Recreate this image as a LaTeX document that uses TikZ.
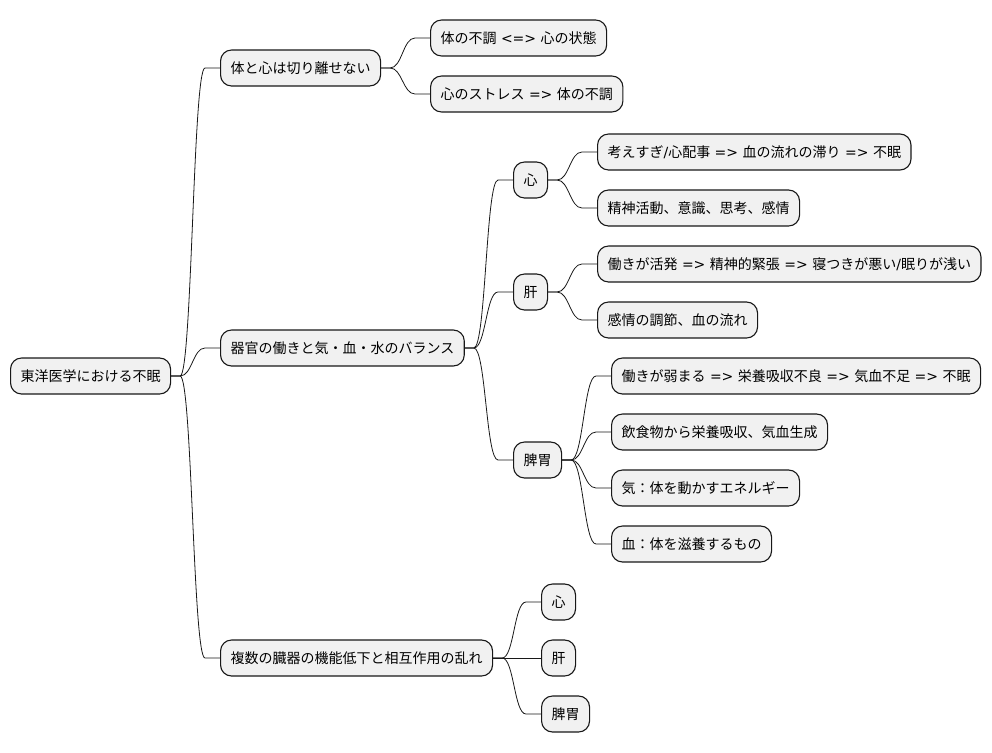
\documentclass[tikz,border=0pt]{standalone}
\usepackage{fontspec}
\setmainfont{Noto Sans CJK JP}
\newfontfamily\dvfont{DejaVu Sans}
\newcommand{\lat}[1]{{\dvfont #1}}
\usetikzlibrary{calc}
\definecolor{boxfill}{HTML}{F1F1F1}
\definecolor{boxline}{HTML}{181818}
\tikzset{
  mm/.style={draw=boxline, line width=1.1pt, fill=boxfill, rounded corners=11pt,
    minimum height=36pt, inner xsep=10pt, inner ysep=0pt, anchor=west,
    font=\fontsize{14}{16}\selectfont, text=black},
  link/.style={draw=boxline, line width=0.8pt}
}
\newcommand{\mmlink}[2]{%
  \draw[link] (#1.east) -- ++(9,0) .. controls +(12,0) and +(-12,0) .. ($(#2.west)+(-15,0)$) -- (#2.west);}
\begin{document}
\begin{tikzpicture}[x=1pt,y=-1pt]
\useasboundingbox (0,0) rectangle (992,752);
\node[mm] (root) at (10,376) {東洋医学における不眠};
\node[mm] (a) at (220,68) {体と心は切り離せない};
\node[mm] (a1) at (430,38) {体の不調\lat{ <=> }心の状態};
\node[mm] (a2) at (430,94) {心のストレス\lat{ => }体の不調};
\node[mm] (b) at (220,348) {器官の働きと気・血・水のバランス};
\node[mm] (b1) at (513,180) {心};
\node[mm] (b11) at (597,152) {考えすぎ\lat{/}心配事\lat{ => }血の流れの滞り\lat{ => }不眠};
\node[mm] (b12) at (597,208) {精神活動、意識、思考、感情};
\node[mm] (b2) at (513,292) {肝};
\node[mm] (b21) at (597,264) {働きが活発\lat{ => }精神的緊張\lat{ => }寝つきが悪い\lat{/}眠りが浅い};
\node[mm] (b22) at (597,320) {感情の調節、血の流れ};
\node[mm] (b3) at (513,460) {脾胃};
\node[mm] (b31) at (611,376) {働きが弱まる\lat{ => }栄養吸収不良\lat{ => }気血不足\lat{ => }不眠};
\node[mm] (b32) at (611,432) {飲食物から栄養吸収、気血生成};
\node[mm] (b33) at (611,488) {気：体を動かすエネルギー};
\node[mm] (b34) at (611,544) {血：体を滋養するもの};
\node[mm] (c) at (220,658) {複数の臓器の機能低下と相互作用の乱れ};
\node[mm] (c1) at (541,602) {心};
\node[mm] (c2) at (541,658) {肝};
\node[mm] (c3) at (541,714) {脾胃};
\mmlink{root}{a}
\mmlink{root}{b}
\mmlink{root}{c}
\mmlink{a}{a1}
\mmlink{a}{a2}
\mmlink{b}{b1}
\mmlink{b}{b2}
\mmlink{b}{b3}
\mmlink{b1}{b11}
\mmlink{b1}{b12}
\mmlink{b2}{b21}
\mmlink{b2}{b22}
\mmlink{b3}{b31}
\mmlink{b3}{b32}
\mmlink{b3}{b33}
\mmlink{b3}{b34}
\mmlink{c}{c1}
\mmlink{c}{c2}
\mmlink{c}{c3}
\end{tikzpicture}
\end{document}
